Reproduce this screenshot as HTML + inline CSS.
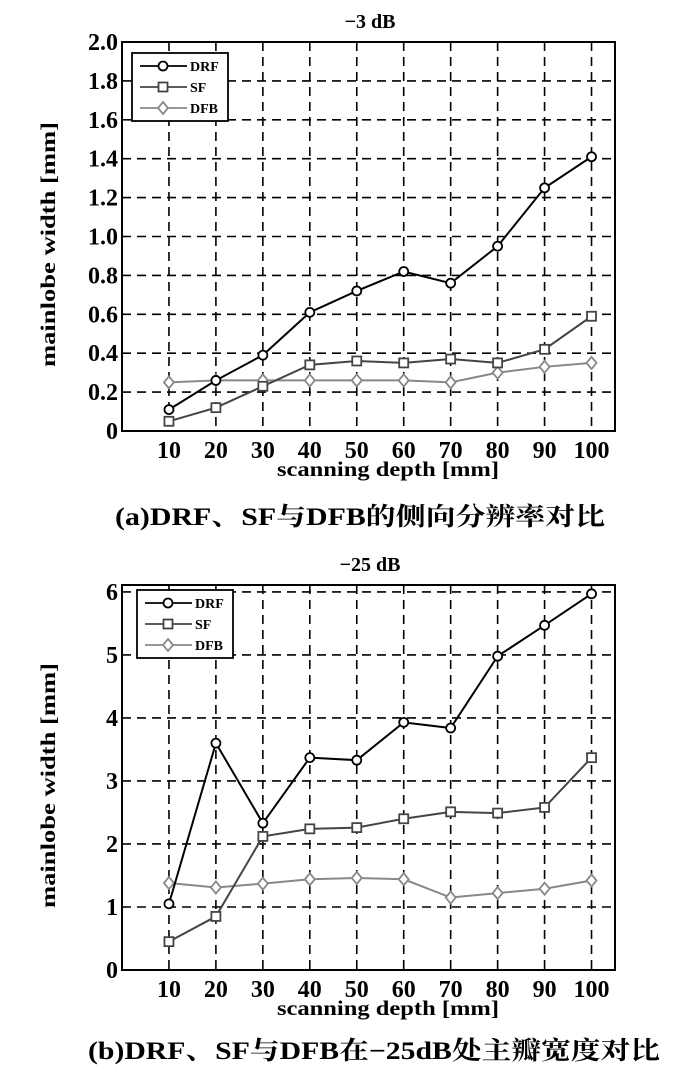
<!DOCTYPE html>
<html><head><meta charset="utf-8">
<style>
body{margin:0;background:#fff;}
svg text{font-family:"Liberation Serif","Noto Serif CJK SC",serif;font-weight:bold;fill:#000;}
</style></head>
<body>
<svg id="svg" width="700" height="1067" xmlns="http://www.w3.org/2000/svg"></svg>
<script>
const categories=[10,20,30,40,50,60,70,80,90,100];
const drfA=[0.11,0.26,0.39,0.61,0.72,0.82,0.76,0.95,1.25,1.41];
const sfA=[0.05,0.12,0.23,0.34,0.36,0.35,0.37,0.35,0.42,0.59];
const dfbA=[0.25,0.26,0.26,0.26,0.26,0.26,0.25,0.30,0.33,0.35];
const yTicksA=["0","0.2","0.4","0.6","0.8","1.0","1.2","1.4","1.6","1.8","2.0"];
const drfB=[1.05,3.6,2.33,3.37,3.33,3.93,3.84,4.98,5.47,5.97];
const sfB=[0.45,0.85,2.12,2.24,2.26,2.40,2.51,2.49,2.58,3.37];
const dfbB=[1.38,1.31,1.37,1.44,1.46,1.44,1.15,1.22,1.29,1.42];
const yTicksB=["0","1","2","3","4","5","6"];

const svg=document.getElementById('svg');
const NS='http://www.w3.org/2000/svg';
function mk(tag,attrs,parent){const e=document.createElementNS(NS,tag);for(const k in attrs)e.setAttribute(k,attrs[k]);(parent||svg).appendChild(e);return e;}

function chart(cfg){
  const g=mk('g',{});
  
  
  const L=122,R=615,T=cfg.top,B=cfg.bottom;
  const xs=v=>L+(v-0)/105*(R-L);
  const ys=v=>B-v/cfg.ymax*(B-T);
  categories.forEach(c=>{const l=mk('line',{x1:xs(c),x2:xs(c),y1:T,y2:B,stroke:'#000','stroke-width':1.6,'stroke-dasharray':'9,6'},g);
    });
  cfg.yt.forEach(t=>{const v=parseFloat(t);if(v===0)return;const l=mk('line',{x1:L,x2:R,y1:ys(v),y2:ys(v),stroke:'#000','stroke-width':1.6,'stroke-dasharray':'9,6'},g);
    });
  const fr=mk('rect',{x:L,y:T,width:R-L,height:B-T,fill:'none',stroke:'#000','stroke-width':2},g);
  
  cfg.yt.forEach(t=>{const tx=mk('text',{x:L-4,y:ys(parseFloat(t))+8,'text-anchor':'end','font-size':24},g);tx.textContent=t;
    });
  categories.forEach(c=>{const tx=mk('text',{x:xs(c),y:B+27,'text-anchor':'middle','font-size':24},g);tx.textContent=c;
    });
  const xt=mk('text',{x:388,y:B+45,'text-anchor':'middle','font-size':21,textLength:222,lengthAdjust:'spacingAndGlyphs'},g);xt.textContent='scanning depth [mm]';
  
  const cy=(T+B)/2;
  const yt=mk('text',{x:0,y:0,'text-anchor':'middle','font-size':21,textLength:245,lengthAdjust:'spacingAndGlyphs',transform:`translate(55,${cy+8}) rotate(-90)`},g);yt.textContent='mainlobe width [mm]';
  
  const ti=mk('text',{x:370,y:T-14,'text-anchor':'middle','font-size':20},g);ti.textContent=cfg.title;
  
  const cap=mk('text',{x:cfg.capx,y:cfg.capy,'font-size':25,textLength:cfg.capw,lengthAdjust:'spacingAndGlyphs'},g);cap.textContent=cfg.caption;
  
  const series=[{n:'DRF',d:cfg.drf,c:'#000',m:'o'},{n:'SF',d:cfg.sf,c:'#444',m:'s'},{n:'DFB',d:cfg.dfb,c:'#888',m:'d'}];
  function marker(m,x,y,c,par){
    let e;
    if(m==='o')e=mk('circle',{cx:x,cy:y,r:4.5,fill:'#fff',stroke:c,'stroke-width':1.8},par);
    else if(m==='s')e=mk('rect',{x:x-4.5,y:y-4.5,width:9,height:9,fill:'#fff',stroke:c,'stroke-width':1.8},par);
    else e=mk('polygon',{points:`${x},${y-6} ${x+5},${y} ${x},${y+6} ${x-5},${y}`,fill:'#fff',stroke:c,'stroke-width':1.8},par);
    return e;
  }
  series.slice().reverse().forEach(s=>{
    const pts=s.d.map((v,i)=>xs(categories[i])+','+ys(v)).join(' ');
    const pl=mk('polyline',{points:pts,fill:'none',stroke:s.c,'stroke-width':2},g);
    
    s.d.forEach((v,i)=>{const e=marker(s.m,xs(categories[i]),ys(v),s.c,g);
      });
  });
  const lg=mk('g',{},g);
  
  const lx=cfg.lx,ly=cfg.ly;
  mk('rect',{x:lx,y:ly,width:cfg.lw,height:68,fill:'#fff',stroke:'#000','stroke-width':1.8},lg);
  series.forEach((s,i)=>{const yy=ly+13+i*21;
    mk('line',{x1:lx+8,x2:lx+55,y1:yy,y2:yy,stroke:s.c,'stroke-width':1.8},lg);
    marker(s.m,lx+31,yy,s.c,lg);
    const t=mk('text',{x:lx+58,y:yy+5,'font-size':14},lg);t.textContent=s.n;
    });
}
chart({name:'chart-a',top:42,bottom:431,ymax:2.0,yt:yTicksA,drf:drfA,sf:sfA,dfb:dfbA,title:'−3 dB',caption:'(a)DRF、SF与DFB的侧向分辨率对比',capx:115,capy:525,capw:490,lx:132,ly:53,lw:96});
chart({name:'chart-b',top:585,bottom:970,ymax:6.11,yt:yTicksB,drf:drfB,sf:sfB,dfb:dfbB,title:'−25 dB',caption:'(b)DRF、SF与DFB在−25dB处主瓣宽度对比',capx:88,capy:1059,capw:572,lx:137,ly:590,lw:96});
</script>
</body></html>
